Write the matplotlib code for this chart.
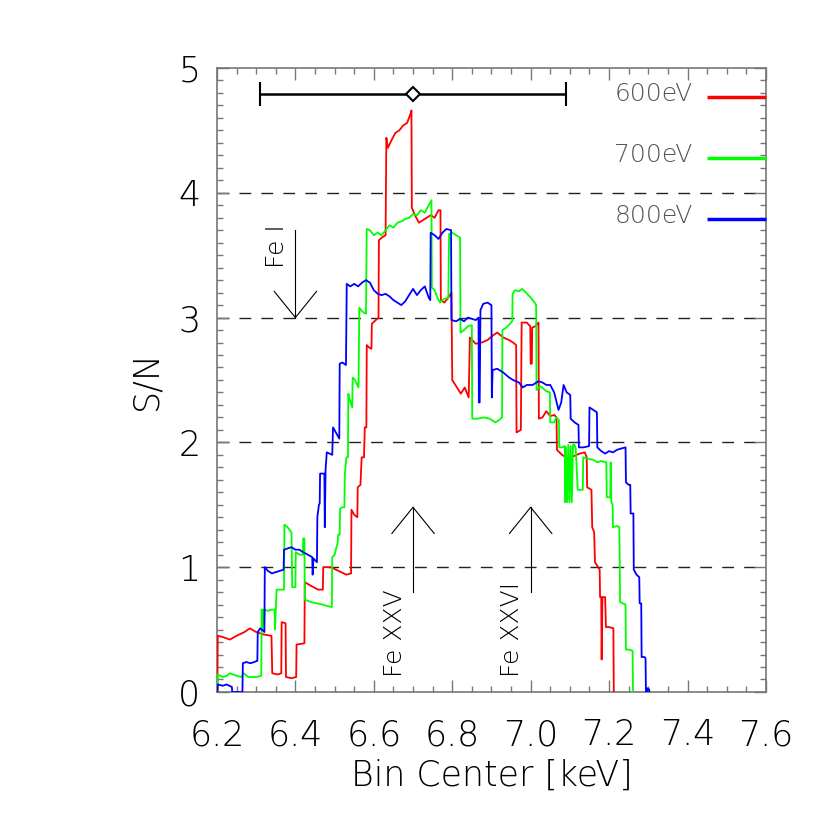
import numpy as np
import matplotlib.pyplot as plt

# S/N versus bin centre for three bin widths
red_kev = [6.201, 6.202, 6.215, 6.233, 6.250, 6.270, 6.284, 6.300, 6.320, 6.339, 6.341, 6.355, 6.364,
           6.365, 6.375, 6.376, 6.390, 6.402, 6.403, 6.423, 6.424, 6.440, 6.458, 6.470, 6.471, 6.490,
           6.510, 6.530, 6.542, 6.543, 6.550, 6.558, 6.559, 6.566, 6.569, 6.575, 6.577, 6.581, 6.582,
           6.588, 6.594, 6.595, 6.605, 6.612, 6.613, 6.620, 6.630, 6.632, 6.636, 6.645, 6.655, 6.665,
           6.675, 6.685, 6.692, 6.696, 6.697, 6.705, 6.715, 6.725, 6.735, 6.745, 6.755, 6.765, 6.770,
           6.771, 6.780, 6.790, 6.798, 6.800, 6.812, 6.822, 6.832, 6.842, 6.845, 6.860, 6.875, 6.890,
           6.905, 6.915, 6.930, 6.945, 6.955, 6.963, 6.964, 6.975, 6.977, 6.990, 6.999, 7.000, 7.003,
           7.004, 7.012, 7.020, 7.021, 7.030, 7.040, 7.050, 7.060, 7.066, 7.067, 7.080, 7.095, 7.110,
           7.125, 7.138, 7.143, 7.144, 7.155, 7.157, 7.162, 7.164, 7.172, 7.176, 7.177, 7.180, 7.181,
           7.183, 7.190, 7.192, 7.200, 7.211, 7.212]
red_sn = [0.00, 0.45, 0.44, 0.42, 0.45, 0.48, 0.51, 0.48, 0.46, 0.45, 0.15, 0.14, 0.15,
          0.56, 0.55, 0.12, 0.11, 0.12, 0.38, 0.39, 0.88, 0.85, 0.82, 0.82, 1.00, 1.00,
          0.97, 0.94, 0.95, 1.46, 1.42, 1.40, 1.64, 1.66, 1.88, 1.88, 2.12, 2.12, 2.78,
          2.76, 2.75, 2.95, 2.98, 3.00, 3.62, 3.64, 3.66, 4.44, 4.36, 4.42, 4.48, 4.50,
          4.54, 4.56, 4.62, 4.66, 3.88, 3.82, 3.76, 3.78, 3.80, 3.82, 3.80, 3.86, 3.86,
          3.14, 3.12, 3.16, 3.20, 2.50, 2.44, 2.39, 2.44, 2.36, 2.84, 2.79, 2.80, 2.82,
          2.86, 2.88, 2.84, 2.82, 2.80, 2.78, 2.08, 2.10, 2.96, 2.96, 2.93, 2.63, 2.63,
          2.92, 2.93, 2.96, 2.19, 2.20, 2.25, 2.21, 2.22, 2.20, 1.94, 1.90, 1.87, 1.89,
          1.91, 1.92, 1.88, 1.64, 1.62, 1.32, 1.28, 1.04, 1.00, 0.98, 0.76, 0.76, 0.26,
          0.76, 0.76, 0.52, 0.52, 0.51, 0.00]

green_kev = [6.201, 6.202, 6.215, 6.225, 6.233, 6.250, 6.262, 6.268, 6.280, 6.300, 6.313, 6.314,
             6.316, 6.318, 6.320, 6.322, 6.330, 6.340, 6.347, 6.348, 6.350, 6.352, 6.365, 6.371,
             6.372, 6.380, 6.390, 6.392, 6.400, 6.401, 6.410, 6.419, 6.420, 6.423, 6.424, 6.440,
             6.455, 6.470, 6.480, 6.493, 6.494, 6.500, 6.508, 6.509, 6.513, 6.514, 6.520, 6.525,
             6.526, 6.530, 6.534, 6.535, 6.538, 6.545, 6.546, 6.552, 6.561, 6.563, 6.570, 6.580,
             6.582, 6.590, 6.600, 6.610, 6.620, 6.630, 6.640, 6.650, 6.660, 6.670, 6.680, 6.690,
             6.700, 6.710, 6.720, 6.730, 6.740, 6.747, 6.748, 6.755, 6.762, 6.769, 6.775, 6.780,
             6.790, 6.792, 6.800, 6.810, 6.815, 6.820, 6.821, 6.830, 6.840, 6.850, 6.851, 6.865,
             6.880, 6.895, 6.910, 6.920, 6.927, 6.928, 6.938, 6.953, 6.954, 6.960, 6.970, 6.978,
             6.988, 7.000, 7.010, 7.014, 7.015, 7.025, 7.040, 7.049, 7.050, 7.060, 7.065, 7.072,
             7.073, 7.080, 7.087, 7.088, 7.090, 7.093, 7.096, 7.099, 7.102, 7.105, 7.108, 7.112,
             7.115, 7.120, 7.130, 7.133, 7.134, 7.145, 7.160, 7.170, 7.180, 7.193, 7.194, 7.200,
             7.203, 7.204, 7.206, 7.209, 7.210, 7.220, 7.226, 7.227, 7.228, 7.235, 7.242, 7.243,
             7.250, 7.260, 7.261]
green_sn = [0.00, 0.14, 0.12, 0.13, 0.15, 0.13, 0.12, 0.15, 0.12, 0.12, 0.13, 0.66,
            0.50, 0.66, 0.55, 0.66, 0.65, 0.66, 0.66, 0.50, 0.66, 0.82, 0.82, 0.82,
            1.34, 1.32, 1.28, 0.84, 0.84, 1.12, 1.10, 1.10, 1.23, 1.23, 0.74, 0.72,
            0.71, 0.70, 0.69, 0.68, 1.08, 1.10, 1.20, 1.26, 1.26, 1.47, 1.48, 1.48,
            1.74, 1.88, 1.88, 2.39, 2.35, 2.28, 2.52, 2.50, 2.44, 3.08, 3.05, 3.03,
            3.71, 3.70, 3.66, 3.68, 3.66, 3.70, 3.74, 3.72, 3.76, 3.77, 3.79, 3.80,
            3.83, 3.82, 3.86, 3.84, 3.90, 3.94, 3.24, 3.22, 3.16, 3.12, 3.14, 3.15,
            3.16, 3.67, 3.68, 3.66, 3.65, 3.64, 2.88, 2.90, 2.93, 2.94, 2.19, 2.19,
            2.20, 2.19, 2.16, 2.18, 2.20, 2.90, 2.92, 2.97, 3.19, 3.22, 3.21, 3.23,
            3.20, 3.16, 3.12, 3.10, 2.42, 2.45, 2.41, 2.40, 2.16, 2.16, 2.20, 2.18,
            1.96, 1.96, 1.97, 1.52, 1.96, 1.52, 1.98, 1.52, 1.97, 1.52, 1.98, 1.98,
            1.95, 1.62, 1.62, 1.62, 1.88, 1.87, 1.86, 1.84, 1.85, 1.84, 1.56, 1.56,
            1.56, 1.84, 1.52, 1.50, 1.32, 1.33, 1.32, 1.11, 0.72, 0.71, 0.70, 0.34,
            0.34, 0.33, 0.00]

blue_kev = [6.201, 6.202, 6.215, 6.225, 6.238, 6.239, 6.265, 6.266, 6.275, 6.285, 6.295, 6.303,
            6.304, 6.310, 6.318, 6.321, 6.322, 6.330, 6.340, 6.350, 6.360, 6.370, 6.371, 6.380,
            6.390, 6.400, 6.410, 6.420, 6.432, 6.443, 6.444, 6.446, 6.452, 6.455, 6.456, 6.460,
            6.462, 6.463, 6.470, 6.474, 6.475, 6.477, 6.480, 6.487, 6.494, 6.496, 6.503, 6.512,
            6.513, 6.520, 6.529, 6.531, 6.540, 6.550, 6.560, 6.570, 6.580, 6.590, 6.600, 6.610,
            6.620, 6.630, 6.640, 6.650, 6.660, 6.670, 6.680, 6.690, 6.700, 6.710, 6.720, 6.730,
            6.740, 6.744, 6.745, 6.755, 6.765, 6.775, 6.785, 6.797, 6.798, 6.810, 6.820, 6.830,
            6.840, 6.850, 6.860, 6.867, 6.868, 6.870, 6.872, 6.879, 6.890, 6.900, 6.901, 6.903,
            6.915, 6.930, 6.945, 6.955, 6.970, 6.980, 6.990, 7.005, 7.020, 7.030, 7.040, 7.050,
            7.060, 7.071, 7.078, 7.084, 7.092, 7.101, 7.102, 7.112, 7.122, 7.123, 7.135, 7.149,
            7.150, 7.160, 7.169, 7.170, 7.180, 7.190, 7.200, 7.210, 7.220, 7.230, 7.242, 7.243,
            7.250, 7.254, 7.255, 7.262, 7.263, 7.270, 7.277, 7.278, 7.282, 7.283, 7.290, 7.293,
            7.294, 7.297, 7.298, 7.302, 7.303]
blue_sn = [0.00, 0.06, 0.05, 0.06, 0.04, 0.00, 0.00, 0.23, 0.24, 0.23, 0.24, 0.25,
           0.48, 0.51, 0.49, 0.48, 1.00, 0.97, 0.95, 0.96, 0.97, 0.98, 1.14, 1.15,
           1.16, 1.14, 1.14, 1.12, 1.10, 1.08, 0.94, 1.07, 1.05, 1.04, 1.40, 1.50,
           1.51, 1.75, 1.75, 1.75, 1.32, 1.78, 1.92, 1.91, 1.90, 2.12, 2.08, 2.03,
           2.63, 2.64, 2.62, 3.27, 3.25, 3.27, 3.25, 3.28, 3.30, 3.28, 3.22, 3.19,
           3.18, 3.19, 3.17, 3.14, 3.12, 3.10, 3.13, 3.18, 3.23, 3.18, 3.22, 3.25,
           3.16, 3.14, 3.68, 3.66, 3.63, 3.68, 3.71, 3.70, 2.98, 2.97, 2.99, 2.97,
           3.00, 2.99, 2.98, 3.00, 2.32, 2.32, 3.06, 3.11, 3.12, 3.10, 2.36, 2.58,
           2.59, 2.56, 2.52, 2.50, 2.48, 2.44, 2.46, 2.46, 2.49, 2.48, 2.46, 2.46,
           2.40, 2.26, 2.32, 2.46, 2.40, 2.38, 2.19, 2.16, 2.14, 1.96, 1.96, 1.97,
           2.28, 2.26, 2.24, 1.96, 1.93, 1.91, 1.93, 1.92, 1.94, 1.95, 1.96, 1.68,
           1.66, 1.66, 1.43, 1.43, 0.98, 0.94, 0.92, 0.71, 0.71, 0.28, 0.28, 0.27,
           0.00, 0.00, 0.03, 0.02, 0.00]

series_labels = ["600eV", "700eV", "800eV"]
series_colors = ["#ff0000", "#00ff00", "#0000ff"]

# mean energy and spread (error bar at the top)
bar_center = 6.70
bar_halfwidth = 0.39
bar_level = 4.79

# line identifications: name, energy, arrow direction
line_names = ["Fe I", "Fe XXV", "Fe XXVI"]
line_energies = [6.40, 6.70, 7.00]
arrow_tail = [3.70, 0.80, 0.80]
arrow_tip = [3.00, 1.48, 1.48]
label_base = [3.40, 0.12, 0.12]

grid_levels = [1, 2, 3, 4]

plt.rcParams['font.family'] = ['DejaVu Sans']
plt.rcParams['font.weight'] = 'light'
plt.rcParams['axes.labelweight'] = 'light'
fig = plt.figure(figsize=(8.3, 8.3), dpi=100)
ax = fig.add_axes([0.2614, 0.1663, 0.6614, 0.7518])

for lev in grid_levels:
    ax.axhline(lev, color="#222222", lw=1.0, dashes=(8.5, 7.3), zorder=1)

curves = [(red_kev, red_sn), (green_kev, green_sn), (blue_kev, blue_sn)]
for (xv, yv), c in zip(curves, series_colors):
    ax.plot(xv, yv, color=c, lw=1.3, zorder=3)

# legend drawn IDL-style: label then a short line segment at the right edge
leg_y = [4.79, 4.30, 3.81]
for lab, c, ly in zip(series_labels, series_colors, leg_y):
    ax.text(7.413, ly, lab, ha="right", va="center", fontsize=18, color="#555555")
    ax.plot([7.449, 7.60], [ly - 0.02, ly - 0.02], color=c, lw=2.5, solid_capstyle="butt",
            clip_on=False, zorder=4)

# error bar with diamond
ax.errorbar([bar_center], [bar_level], xerr=[bar_halfwidth], color="black", lw=1.8,
            capsize=8.5, capthick=1.8, marker="D", ms=7, mfc="white", mec="black", mew=1.5,
            zorder=5)

# arrows marking the Fe lines
head_dx = 0.054
head_dy = 0.21
for name, e, t0, t1, lb in zip(line_names, line_energies, arrow_tail, arrow_tip, label_base):
    sgn = np.sign(t1 - t0)
    ax.plot([e, e], [t0, t1], color="black", lw=0.8, zorder=2)
    ax.plot([e - head_dx, e, e + head_dx], [t1 - sgn * head_dy, t1, t1 - sgn * head_dy],
            color="black", lw=0.8, zorder=2)
    ax.text(e - 0.047, lb, name, rotation=90, ha="center", va="bottom", fontsize=18)

ax.set_xlim(6.2, 7.6)
ax.set_ylim(0, 5)
ax.xaxis.set_major_locator(plt.MultipleLocator(0.2))
ax.xaxis.set_minor_locator(plt.MultipleLocator(0.05))
ax.yaxis.set_major_locator(plt.MultipleLocator(1))
ax.yaxis.set_minor_locator(plt.MultipleLocator(0.1))
ax.xaxis.set_major_formatter(plt.FormatStrFormatter("%.1f"))

for sp in ax.spines.values():
    sp.set_color("#777777")
    sp.set_linewidth(1.2)
ax.tick_params(which="both", direction="in", top=True, right=True, color="#777777")
ax.tick_params(which="major", length=8.5, width=1.0, labelsize=25)
ax.tick_params(which="minor", length=4.3, width=1.0)
ax.tick_params(axis="x", pad=19)
ax.tick_params(axis="y", pad=12)

ylabs = ax.get_yticklabels()
ylabs[0].set_va("bottom")
ylabs[-1].set_va("top")

ax.set_xlabel("Bin Center [keV]", fontsize=25)
ax.set_ylabel("S/N", fontsize=25)
ax.xaxis.set_label_coords(0.5, -0.107)
ax.yaxis.set_label_coords(-0.098, 0.5)

fig.savefig("out.png", dpi=100)
